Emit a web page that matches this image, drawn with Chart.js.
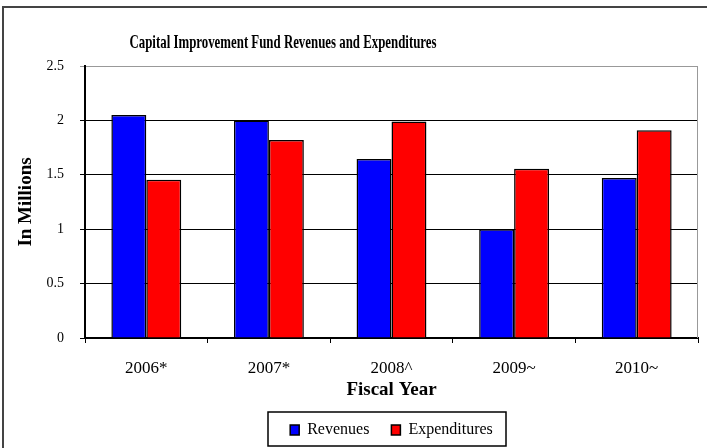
<!DOCTYPE html>
<html>
<head>
<meta charset="utf-8">
<script src="https://cdn.jsdelivr.net/npm/chart.js@4"></script>
<style>
  body { margin: 0; background: #fff; }
</style>
</head>
<body>
<canvas id="fundChart" width="707" height="448"></canvas>
<script>
// data
var years = ["2006*", "2007*", "2008^", "2009~", "2010~"];
var revenues = [2.05, 2.0, 1.645, 1.0, 1.47];
var expenditures = [1.455, 1.82, 1.99, 1.555, 1.91];
var yTicks = [0, 0.5, 1, 1.5, 2, 2.5];

var serif = '"Liberation Serif", "Times New Roman", serif';

// white page, outer frame, title, grey right edge, box round the legend
var decor = {
  id: "decor",
  beforeDraw: function (chart) {
    var ctx = chart.ctx;
    ctx.save();
    ctx.fillStyle = "#fff";
    ctx.fillRect(0, 0, chart.width, chart.height);
    ctx.restore();
  },
  afterDraw: function (chart) {
    var ctx = chart.ctx;
    var area = chart.chartArea;
    ctx.save();
    // frame (only top and left show in the picture)
    ctx.strokeStyle = "#444";
    ctx.lineWidth = 2;
    ctx.strokeRect(3, 7, chart.width + 20, chart.height + 20);

    // grey right border of the plot
    ctx.strokeStyle = "#999";
    ctx.lineWidth = 1;
    ctx.beginPath();
    ctx.moveTo(Math.round(area.right) - 0.5, area.top);
    ctx.lineTo(Math.round(area.right) - 0.5, area.bottom);
    ctx.stroke();

    // title, squeezed like the original
    ctx.fillStyle = "#000";
    ctx.font = "bold 19px " + serif;
    ctx.textAlign = "center";
    ctx.textBaseline = "middle";
    ctx.fillText("Capital Improvement Fund Revenues and Expenditures", 283, 43, 307);

    // legend box
    var boxes = chart.legend.legendHitBoxes;
    if (boxes && boxes.length) {
      var first = boxes[0], last = boxes[boxes.length - 1];
      var cx = (first.left + last.left + last.width) / 2;
      var cy = first.top + first.height / 2;
      ctx.strokeStyle = "#000";
      ctx.lineWidth = 1.5;
      ctx.strokeRect(Math.round(cx - 124), Math.round(cy - 18), 238, 34);
    }
    ctx.restore();
  }
};

new Chart("fundChart", {
  type: "bar",
  data: {
    labels: years,
    datasets: [{
      label: "Revenues",
      data: revenues,
      backgroundColor: "#0000ff",
      borderColor: "#000",
      borderWidth: 1.5
    }, {
      label: "Expenditures",
      data: expenditures,
      backgroundColor: "#ff0000",
      borderColor: "#000",
      borderWidth: 1.5
    }]
  },
  options: {
    responsive: false,
    animation: false,
    categoryPercentage: 0.57,
    barPercentage: 1.0,
    layout: { padding: { top: 66, right: 9, bottom: 0, left: 0 } },
    plugins: {
      title: { display: false },
      tooltip: { enabled: false },
      legend: {
        display: true,
        position: "bottom",
        fullSize: false,
        labels: {
          color: "#000",
          font: { family: serif, size: 16 },
          boxWidth: 9,
          boxHeight: 10,
          padding: 22
        }
      }
    },
    scales: {
      x: {
        offset: true,
        grid: {
          offset: true,
          drawOnChartArea: false,
          drawTicks: true,
          tickLength: 5,
          color: "#000"
        },
        border: { display: true, color: "#000", width: 2 },
        ticks: {
          color: "#000",
          font: { family: serif, size: 17 },
          padding: 15,
          maxRotation: 0
        },
        title: {
          display: true,
          text: "Fiscal Year",
          color: "#000",
          font: { family: serif, size: 19, weight: "bold", lineHeight: 1 },
          padding: { top: 0, bottom: 0 }
        },
        afterFit: function (scale) { scale.height = 62; }
      },
      y: {
        min: 0,
        max: 2.5,
        afterBuildTicks: function (scale) {
          scale.ticks = yTicks.map(function (v) { return { value: v }; });
        },
        grid: {
          color: function (c) { return c.tick && c.tick.value === 2.5 ? "#999" : "#000"; },
          lineWidth: 1,
          drawTicks: true,
          tickLength: 5
        },
        border: { display: true, color: "#000", width: 2 },
        ticks: {
          color: "#000",
          font: { family: serif, size: 14 },
          padding: 16,
          callback: function (v) { return String(v); }
        },
        title: {
          display: true,
          text: "In Millions",
          color: "#000",
          font: { family: serif, size: 19, weight: "bold", lineHeight: 1.2 },
          padding: { top: 15, bottom: 0 }
        },
        afterFit: function (scale) { scale.width = 85; }
      }
    }
  },
  plugins: [decor]
});
</script>
</body>
</html>
